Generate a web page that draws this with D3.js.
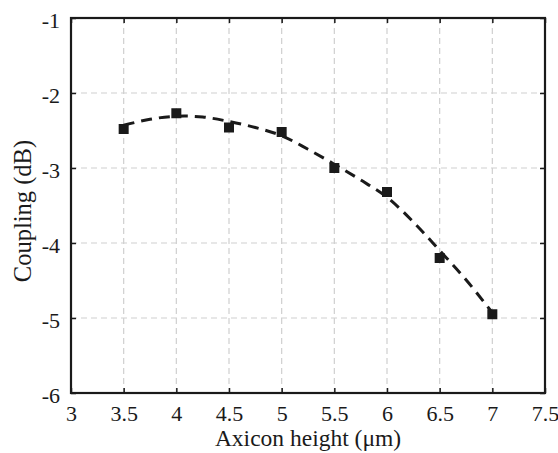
<!DOCTYPE html>
<html>
<head>
<meta charset="utf-8">
<script src="https://cdn.jsdelivr.net/npm/d3@7"></script>
<style>
  body { margin: 0; background: #fff; }
</style>
</head>
<body>
<svg id="chart" width="558" height="453"></svg>
<script>
// measured points
const heights = [3.5, 4, 4.5, 5, 5.5, 6, 6.5, 7];
const coupling = [-2.48, -2.27, -2.46, -2.52, -3.0, -3.32, -4.2, -4.95];

// dashed fit curve
const fitHeights = [3.5, 3.75, 4, 4.25, 4.5, 4.75, 5, 5.25, 5.5, 5.75, 6, 6.25, 6.5, 6.75, 7];
const fitCoupling = [-2.43, -2.35, -2.31, -2.32, -2.38, -2.46, -2.57, -2.75, -2.95, -3.16, -3.39, -3.72, -4.1, -4.49, -4.93];

const xTicks = [3, 3.5, 4, 4.5, 5, 5.5, 6, 6.5, 7, 7.5];
const yTicks = [-1, -2, -3, -4, -5, -6];

const plotLeft = 71, plotRight = 545, plotTop = 18, plotBottom = 393;
const fontName = "Liberation Serif";
const svg = d3.select("#chart");

const x = d3.scaleLinear().domain([3, 7.5]).range([plotLeft, plotRight]);
const y = d3.scaleLinear().domain([-6, -1]).range([plotBottom, plotTop]);

// grid
svg.append("g").selectAll("line")
  .data(xTicks.slice(1, -1))
  .join("line")
  .attr("x1", d => x(d)).attr("x2", d => x(d))
  .attr("y1", plotTop).attr("y2", plotBottom)
  .attr("stroke", "#cfcfcf").attr("stroke-width", 1.2)
  .attr("stroke-dasharray", "6,4");

svg.append("g").selectAll("line")
  .data(yTicks.slice(1, -1))
  .join("line")
  .attr("y1", d => y(d)).attr("y2", d => y(d))
  .attr("x1", plotLeft).attr("x2", plotRight)
  .attr("stroke", "#cfcfcf").attr("stroke-width", 1.2)
  .attr("stroke-dasharray", "6,4");

// axes (ticks inward, box)
const tickLen = 5;
const xAxisG = svg.append("g").attr("transform", `translate(0,${plotBottom})`)
  .call(d3.axisBottom(x).tickValues(xTicks).tickSize(-tickLen).tickPadding(14).tickFormat(d3.format("")))
  .call(g => g.select(".domain").remove());

svg.append("g").attr("transform", `translate(0,${plotTop})`)
  .call(d3.axisTop(x).tickValues(xTicks).tickSize(-tickLen).tickFormat(""))
  .call(g => g.select(".domain").remove());

const yAxisG = svg.append("g").attr("transform", `translate(${plotLeft},0)`)
  .call(d3.axisLeft(y).tickValues(yTicks).tickSize(-tickLen).tickPadding(10).tickFormat(d3.format("")))
  .call(g => g.select(".domain").remove());

svg.append("g").attr("transform", `translate(${plotRight},0)`)
  .call(d3.axisRight(y).tickValues(yTicks).tickSize(-tickLen).tickFormat(""))
  .call(g => g.select(".domain").remove());

svg.selectAll(".tick line").attr("stroke", "#1a1a1a").attr("stroke-width", 1.5);
// tick labels: serif, slightly wide, hyphen-minus like the original
svg.selectAll(".tick text")
  .attr("font-family", fontName)
  .attr("font-size", 20)
  .attr("fill", "#1a1a1a")
  .attr("transform", "scale(1.1,1)")
  .text(function() { return this.textContent.replace("−", "-"); });
yAxisG.selectAll(".tick text").attr("dy", "0.45em");

svg.append("rect")
  .attr("x", plotLeft).attr("y", plotTop)
  .attr("width", plotRight - plotLeft).attr("height", plotBottom - plotTop)
  .attr("fill", "none").attr("stroke", "#1a1a1a").attr("stroke-width", 2.2);

// fit line
const line = d3.line()
  .x((d, i) => x(fitHeights[i]))
  .y(d => y(d))
  .curve(d3.curveCatmullRom);

svg.append("path")
  .datum(fitCoupling)
  .attr("d", line)
  .attr("fill", "none")
  .attr("stroke", "#1a1a1a")
  .attr("stroke-width", 3)
  .attr("stroke-dasharray", "11,7");

// markers
const sz = 10;
svg.append("g").selectAll("rect")
  .data(coupling)
  .join("rect")
  .attr("x", (d, i) => x(heights[i]) - sz / 2)
  .attr("y", d => y(d) - sz / 2)
  .attr("width", sz).attr("height", sz)
  .attr("fill", "#1a1a1a");

// labels
svg.append("text")
  .attr("x", 308).attr("y", 446)
  .attr("text-anchor", "middle")
  .attr("font-family", fontName)
  .attr("font-size", 23.5)
  .attr("fill", "#1a1a1a")
  .text("Axicon height (\u03bcm)");

svg.append("text")
  .attr("transform", "translate(31,211) rotate(-90)")
  .attr("text-anchor", "middle")
  .attr("font-family", fontName)
  .attr("font-size", 24.5)
  .attr("fill", "#1a1a1a")
  .text("Coupling (dB)");
</script>
</body>
</html>
